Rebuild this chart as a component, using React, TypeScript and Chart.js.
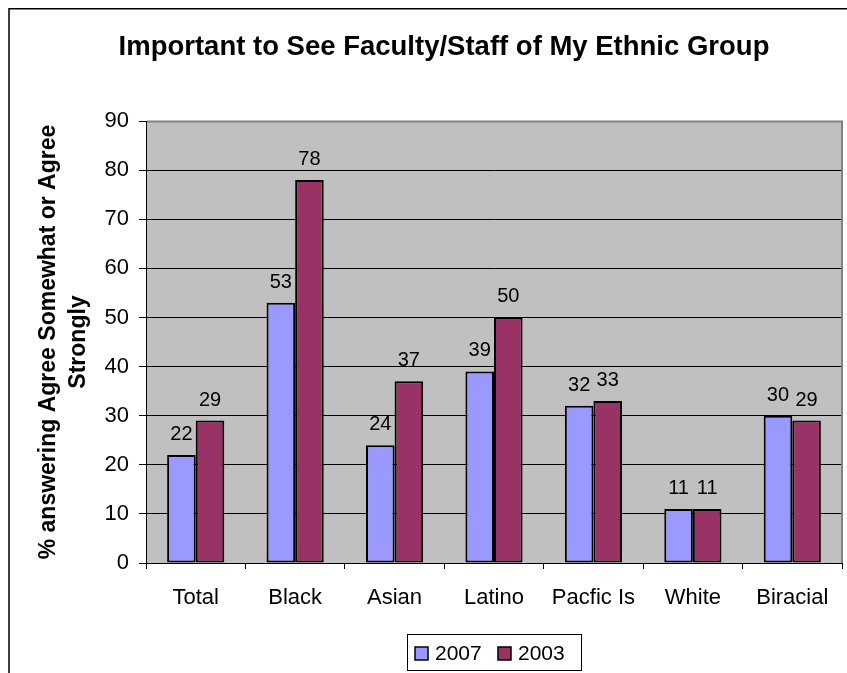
import React, { useEffect, useRef } from 'react';
import { Chart, registerables } from 'chart.js';

Chart.register(...registerables);

// ---- data ----
const categories = ['Total', 'Black', 'Asian', 'Latino', 'Pacfic Is', 'White', 'Biracial'];
const seriesNames = ['2007', '2003'];
const values2007 = [22, 53, 24, 39, 32, 11, 30];
const values2003 = [29, 78, 37, 50, 33, 11, 29];
const yMin = 0;
const yMax = 90;
const yStep = 10;
const chartTitle = 'Important to See Faculty/Staff of My Ethnic Group';
const yAxisTitle = ['% answering Agree Somewhat or Agree', 'Strongly'];

// ---- styles ----
const FONT = '"Liberation Sans", Arial, Helvetica, sans-serif';
const COLORS = ['#9999FF', '#993366'];
const PLOT_BG = '#C0C0C0';

const W = 847;
const H = 673;

const decorPlugin = {
  id: 'decor',
  beforeDraw(chart: any) {
    const { ctx, chartArea } = chart;
    ctx.save();
    // outer frame (left + top edges visible)
    ctx.strokeStyle = '#000';
    ctx.lineWidth = 1.5;
    ctx.beginPath();
    ctx.moveTo(9, H);
    ctx.lineTo(9, 8.75);
    ctx.lineTo(W, 8.75);
    ctx.stroke();
    // plot background
    ctx.fillStyle = PLOT_BG;
    ctx.fillRect(chartArea.left, chartArea.top, chartArea.right - chartArea.left, chartArea.bottom - chartArea.top);
    ctx.restore();
  },
  afterDatasetsDraw(chart: any) {
    const { ctx, chartArea } = chart;
    ctx.save();
    // plot border (top + right, gray)
    ctx.strokeStyle = '#808080';
    ctx.lineWidth = 2;
    ctx.beginPath();
    ctx.moveTo(chartArea.left + 1, chartArea.top + 0.5);
    ctx.lineTo(chartArea.right, chartArea.top + 0.5);
    ctx.lineTo(chartArea.right, chartArea.bottom);
    ctx.stroke();

    // value labels
    ctx.fillStyle = '#000';
    ctx.font = `20px ${FONT}`;
    ctx.textAlign = 'center';
    ctx.textBaseline = 'alphabetic';
    chart.data.datasets.forEach((ds: any, di: number) => {
      const meta = chart.getDatasetMeta(di);
      meta.data.forEach((bar: any, i: number) => {
        ctx.fillText(String(ds.data[i]), bar.x, bar.y - 15);
      });
    });

    // title
    ctx.font = `bold 27.5px ${FONT}`;
    ctx.textAlign = 'center';
    ctx.fillText(chartTitle, 444, 55);

    // legend
    ctx.lineWidth = 1;
    ctx.strokeStyle = '#000';
    ctx.strokeRect(407.5, 634.5, 174, 36);
    const items = [
      { x: 415, tx: 435 },
      { x: 498, tx: 518 },
    ];
    ctx.font = `21px ${FONT}`;
    ctx.textAlign = 'left';
    items.forEach((it, i) => {
      ctx.fillStyle = COLORS[i];
      ctx.fillRect(it.x, 647, 13, 13);
      ctx.lineWidth = 1.5;
      ctx.strokeRect(it.x, 647, 13, 13);
      ctx.fillStyle = '#000';
      ctx.fillText(seriesNames[i], it.tx, 660);
    });
    ctx.restore();
  },
};

export default function App() {
  const ref = useRef<HTMLCanvasElement | null>(null);

  useEffect(() => {
    if (!ref.current) return;
    const chart = new Chart(ref.current, {
      type: 'bar',
      data: {
        labels: categories,
        datasets: [
          {
            label: seriesNames[0],
            data: values2007,
            backgroundColor: COLORS[0],
            borderColor: '#000',
            borderWidth: 2,
            borderSkipped: false,
            categoryPercentage: 0.575,
            barPercentage: 1,
          },
          {
            label: seriesNames[1],
            data: values2003,
            backgroundColor: COLORS[1],
            borderColor: '#000',
            borderWidth: 2,
            borderSkipped: false,
            categoryPercentage: 0.575,
            barPercentage: 1,
          },
        ],
      },
      options: {
        responsive: false,
        animation: false,
        devicePixelRatio: 1,
        layout: { padding: { top: 121, left: 0, right: 5, bottom: 0 } },
        plugins: {
          legend: { display: false },
          title: { display: false },
          tooltip: { enabled: false },
        },
        scales: {
          x: {
            ticks: { font: { family: FONT, size: 22 }, color: '#000', padding: 16, maxRotation: 0, autoSkip: false },
            grid: { offset: true, drawOnChartArea: false, color: '#000', tickLength: 6 },
            border: { display: true, color: '#000', width: 1 },
            afterFit: (s: any) => {
              s.height = 110;
            },
          },
          y: {
            min: yMin,
            max: yMax,
            ticks: { stepSize: yStep, font: { family: FONT, size: 22 }, color: '#000', padding: 10 },
            grid: { color: '#000', lineWidth: 1, tickLength: 7 },
            border: { display: true, color: '#000', width: 1 },
            title: {
              display: true,
              text: yAxisTitle,
              color: '#000',
              font: { family: FONT, size: 23, weight: 'bold', lineHeight: 1.3 },
              padding: { top: 34, bottom: 0 },
            },
            afterFit: (s: any) => {
              s.width = 146;
            },
          },
        },
      },
      plugins: [decorPlugin],
    } as any);
    return () => chart.destroy();
  }, []);

  return (
    <div style={{ position: 'fixed', left: 0, top: 0, width: W, height: H }}>
      <canvas ref={ref} width={W} height={H} style={{ display: 'block', width: W, height: H }} />
    </div>
  );
}
